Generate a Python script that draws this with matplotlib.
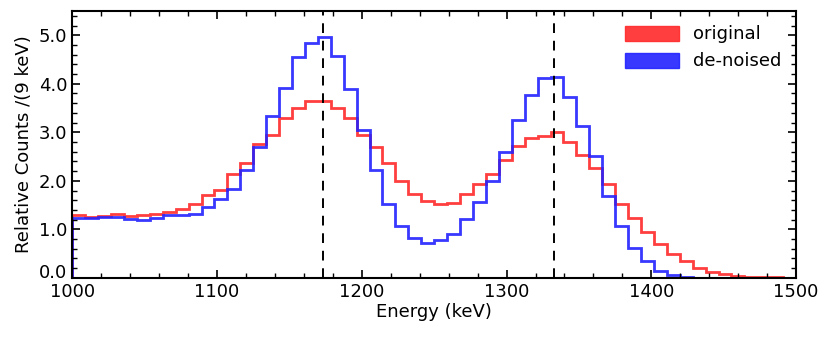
import matplotlib
matplotlib.use("Agg")
import matplotlib.pyplot as plt
import numpy as np
from matplotlib.patches import Patch
from matplotlib.ticker import MultipleLocator, FormatStrFormatter
from matplotlib.transforms import ScaledTranslation

# 56 bins between 1000 and 1500 keV
bin_edges = np.linspace(1000, 1500, 57)

original = [1.29, 1.26, 1.28, 1.31, 1.28, 1.30, 1.31, 1.36, 1.42, 1.52,
            1.71, 1.82, 2.15, 2.37, 2.75, 2.95, 3.29, 3.51, 3.64, 3.65,
            3.51, 3.29, 2.95, 2.69, 2.37, 2.00, 1.73, 1.58, 1.53, 1.55,
            1.73, 1.93, 2.15, 2.43, 2.71, 2.88, 2.93, 3.00, 2.79, 2.54,
            2.26, 1.93, 1.53, 1.24, 0.94, 0.70, 0.50, 0.35, 0.20, 0.13,
            0.07, 0.035, 0.02, 0.015, 0.01, 0.005]
denoised = [1.24, 1.23, 1.25, 1.25, 1.22, 1.19, 1.24, 1.29, 1.30, 1.31,
            1.45, 1.63, 1.84, 2.23, 2.69, 3.33, 3.91, 4.56, 4.84, 4.96,
            4.57, 3.89, 3.04, 2.23, 1.53, 1.06, 0.83, 0.71, 0.77, 0.90,
            1.21, 1.57, 2.00, 2.60, 3.26, 3.77, 4.12, 4.13, 3.73, 3.12,
            2.51, 1.68, 1.07, 0.62, 0.35, 0.15, 0.06, 0.02, 0.005, 0.0,
            0.0, 0.0, 0.0, 0.0, 0.0, 0.0]
peak_lines = [1173.2, 1332.5]
labels = ["original", "de-noised"]

red = "#ff2a2a"
blue = "#2222ff"

fig = plt.figure(figsize=(8.31, 3.38), dpi=100)
ax = fig.add_axes([0.087, 0.178, 0.871, 0.7895])

ax.stairs(original, bin_edges, color=red, lw=2.0, alpha=0.9)
ax.stairs(denoised, bin_edges, color=blue, lw=2.0, alpha=0.9)

for e in peak_lines:
    ax.axvline(e, color="black", ls=(0, (5, 4)), lw=1.4)

ax.set_xlim(1000, 1500)
ax.set_ylim(0, 5.5)
ax.xaxis.set_major_locator(MultipleLocator(100))
ax.xaxis.set_minor_locator(MultipleLocator(20))
ax.yaxis.set_major_locator(MultipleLocator(1.0))
ax.yaxis.set_minor_locator(MultipleLocator(0.2))
ax.yaxis.set_major_formatter(FormatStrFormatter("%.1f"))
ax.tick_params(which="both", direction="in", top=True, right=True, labelsize=13)
ax.tick_params(which="major", length=6, width=1.2)
ax.tick_params(which="minor", length=3.5, width=1.0)
for s in ax.spines.values():
    s.set_linewidth(1.5)

ax.set_xlabel("Energy (keV)", fontsize=13, labelpad=2)
ax.set_ylabel("Relative Counts /(9 keV)", fontsize=13, labelpad=4)

handles = [Patch(facecolor=red, edgecolor=red, alpha=0.9),
           Patch(facecolor=blue, edgecolor=blue, alpha=0.9)]
ax.legend(handles, labels, loc="upper right", frameon=False, fontsize=13,
          handlelength=3.0, handleheight=0.9, borderaxespad=0.4, labelspacing=0.5)

# lift the 0.0 label a little, as in the original
fig.canvas.draw()
for t in ax.yaxis.get_major_ticks():
    if abs(t.get_loc()) < 1e-9:
        t.label1.set_transform(t.label1.get_transform()
                               + ScaledTranslation(0, 5 / 72, fig.dpi_scale_trans))

fig.savefig("out.png", dpi=100)
